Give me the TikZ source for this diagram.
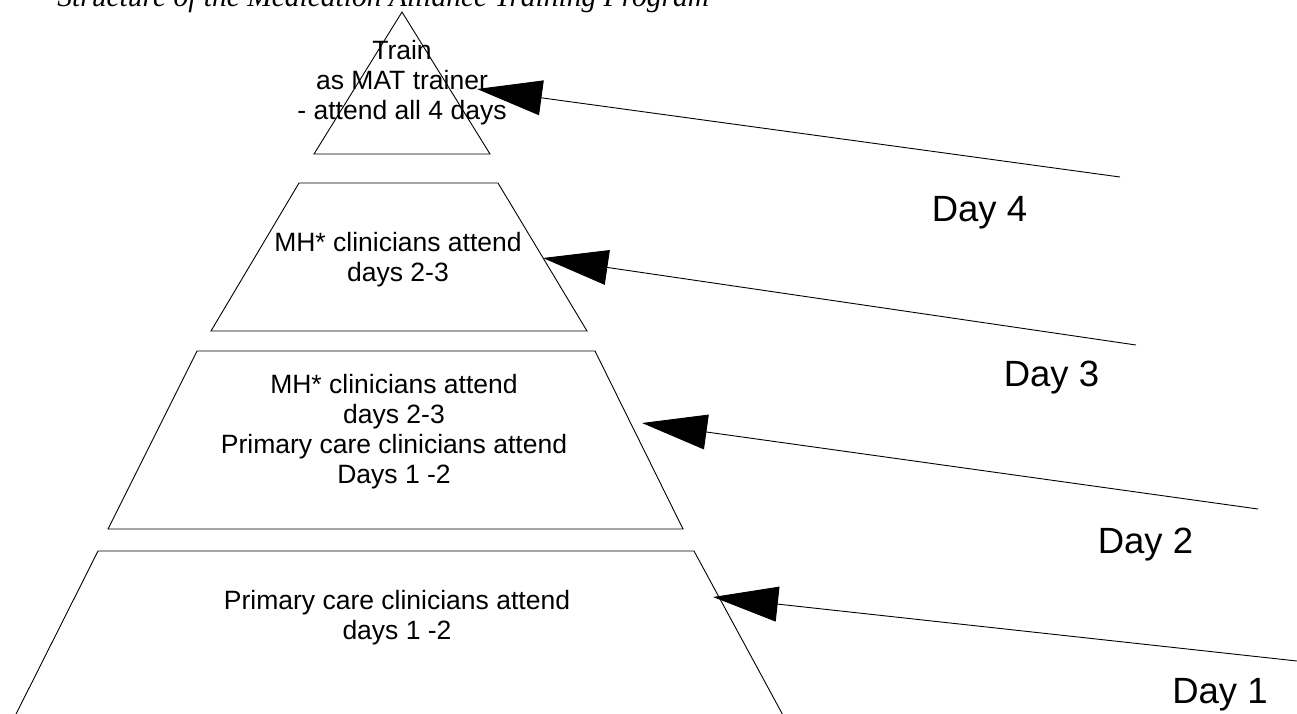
\documentclass[tikz,border=0pt]{standalone}
\usepackage{fontspec}
\setmainfont{Liberation Sans}
\newfontfamily\titlefont{Liberation Serif}
\usetikzlibrary{arrows.meta}

\begin{document}
\begin{tikzpicture}[x=1pt,y=-1pt,line width=0.9pt,
	tiertext/.style={align=center,inner sep=0pt,font=\fontsize{26.5}{30}\selectfont},
	daytext/.style={anchor=base,inner sep=0pt,font=\fontsize{36.5}{42}\selectfont},
	dayarrow/.style={-{Triangle[length=65pt,width=35pt]}}]

	\useasboundingbox (0,0) rectangle (1297,713);
	\clip (0,0) rectangle (1297,713);

	\node[anchor=base west,inner sep=0pt,font=\titlefont\itshape\fontsize{29.5}{34}\selectfont] (title) at (57,6) {Structure of the Medication Alliance Training Program};

	% the four tiers
	\draw (402,12) -- (490,154) -- (314,154) -- cycle;
	\draw (299,183) -- (498,183) -- (587,331) -- (211,331) -- cycle;
	\draw (197,351) -- (595,351) -- (683,529) -- (108,529) -- cycle;
	\draw (98,551) -- (694,551) -- (791,730) -- (8,730) -- cycle;

	\node[tiertext] (tier4) at (402,83) {Train\\as MAT trainer\\- attend all 4 days};
	\node[tiertext] (tier3) at (398,260) {MH* clinicians attend\\days 2-3};
	\node[tiertext] (tier2) at (394,432) {MH* clinicians attend\\days 2-3\\Primary care clinicians attend\\Days 1 -2};
	\node[tiertext] (tier1) at (397,618) {Primary care clinicians attend\\days 1 -2};

	% arrows
	\coordinate (tip4) at (477,89);
	\coordinate (end4) at (1120,177);
	\coordinate (tip3) at (543,258);
	\coordinate (end3) at (1136,345);
	\coordinate (tip2) at (642,423);
	\coordinate (end2) at (1258,509);
	\coordinate (tip1) at (713,597);
	\coordinate (end1) at (1297,661);

	\draw[dayarrow] (end4) -- (tip4);
	\draw[dayarrow] (end3) -- (tip3);
	\draw[dayarrow] (end2) -- (tip2);
	\draw[dayarrow] (end1) -- (tip1);

	\node[daytext] (day4) at (979.5,221) {Day 4};
	\node[daytext] (day3) at (1051.5,386) {Day 3};
	\node[daytext] (day2) at (1145.5,553) {Day 2};
	\node[daytext] (day1) at (1220,703) {Day 1};

\end{tikzpicture}
\end{document}
